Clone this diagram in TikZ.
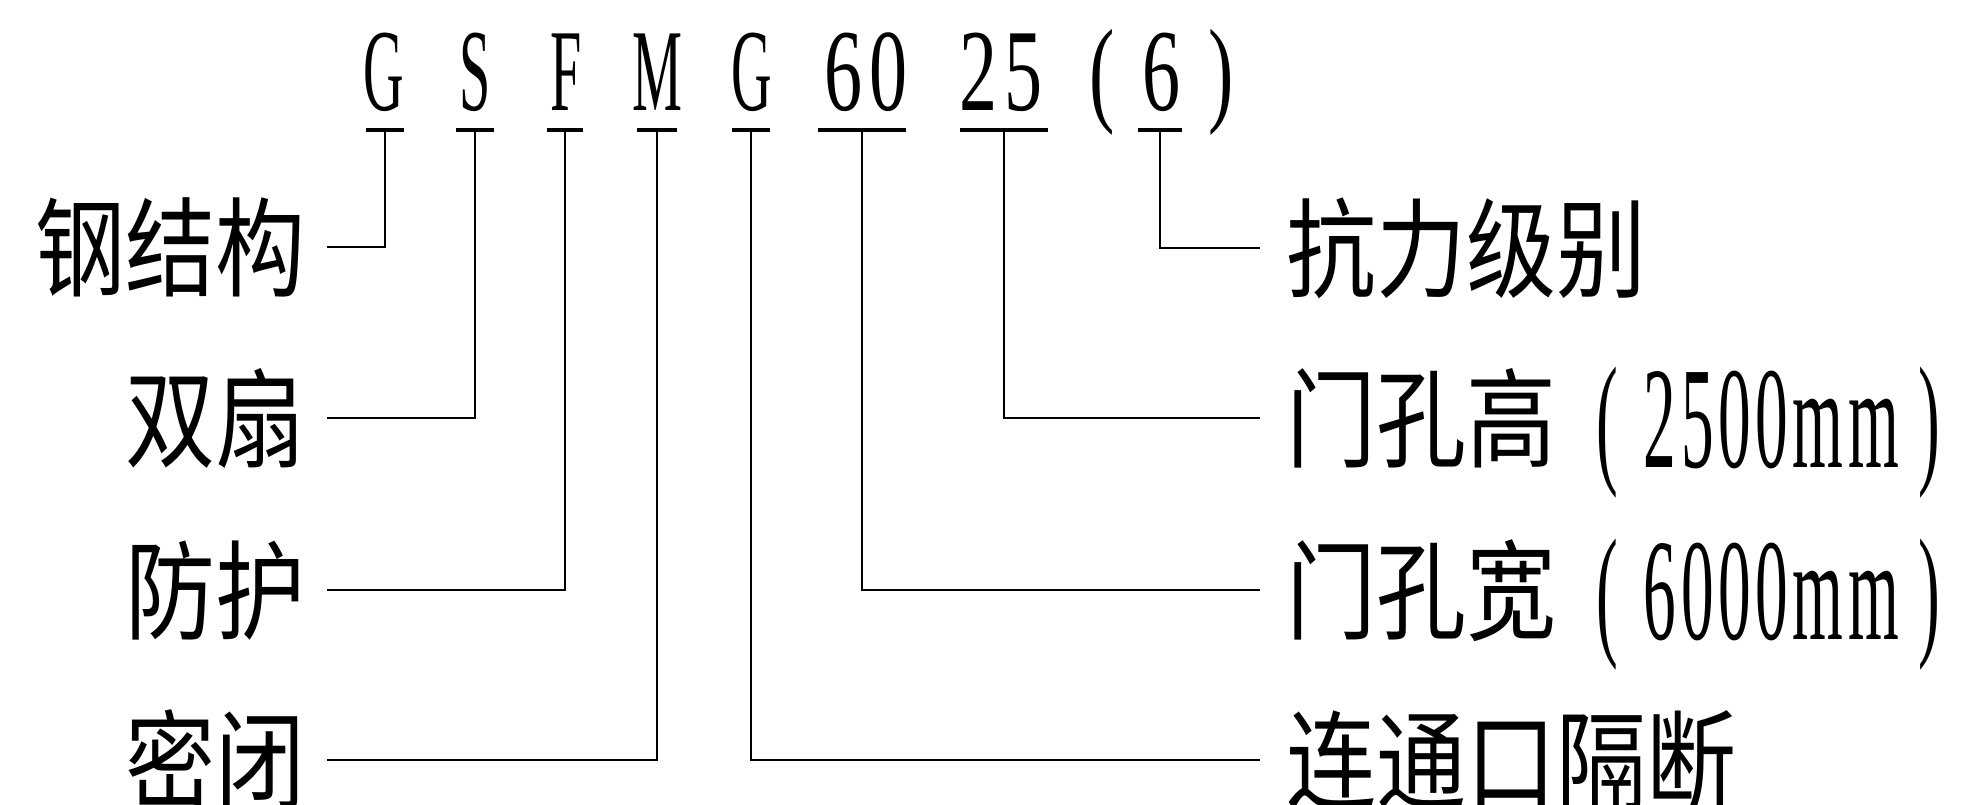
\documentclass[tikz,border=0pt]{standalone}
\usepackage{fontspec}
\setmainfont{Liberation Serif}
\newfontfamily\cjk{Noto Sans CJK SC}
\usepackage{tikz}
\newcommand{\hz}[1]{\scalebox{1}[1.2]{\cjk\fontsize{90}{90}\selectfont #1}}
\newcommand{\digs}[1]{\raisebox{-8pt}{\scalebox{0.45}[1]{\fontsize{145}{145}\selectfont\addfontfeature{LetterSpace=7}#1}}}
\newcommand{\code}[2][0.48]{\scalebox{#1}[1]{\fontsize{117}{117}\selectfont #2}}

\begin{document}
\begin{tikzpicture}[x=1pt, y=-1pt, line width=2.4pt,
    code/.style={anchor=base, inner sep=0pt},
    leftlab/.style={anchor=east, inner xsep=20pt, text height=94pt, text depth=12pt},
    rightlab/.style={anchor=west, inner xsep=25pt, text height=94pt, text depth=12pt},
    underline/.style={line width=3.4pt}]

\useasboundingbox (0,0) rectangle (1985,804);

% model code
\draw
    node at(384,110)[code,name=cG]{\code{G}}
    node at(475,110)[code,name=cS]{\code{S}}
    node at(566,110)[code,name=cF]{\code{F}}
    node at(657,110)[code,name=cM]{\code{M}}
    node at(752,110)[code,name=cGb]{\code{G}}
    node at(866,110)[code,name=cW]{\code[0.65]{6\hspace{12pt}0}}
    node at(1001,110)[code,name=cH]{\code[0.65]{2\hspace{12pt}5}}
    node at(1162,110)[code,name=cR]{\code[0.65]{(\hspace{43pt}6\hspace{43pt})}}

% meanings
    node at(327,247)[leftlab,name=steel]{\hz{钢结构}}
    node at(327,418)[leftlab,name=double]{\hz{双扇}}
    node at(327,590)[leftlab,name=protect]{\hz{防护}}
    node at(327,760)[leftlab,name=seal]{\hz{密闭}}

    node at(1260,248)[rightlab,name=resist]{\hz{抗力级别}}
    node at(1260,418)[rightlab,name=height]{\hz{门孔高}\hspace{40pt}\digs{(\hspace{58pt}2500mm\hspace{44pt})}}
    node at(1260,590)[rightlab,name=width]{\hz{门孔宽}\hspace{40pt}\digs{(\hspace{58pt}6000mm\hspace{44pt})}}
    node at(1260,760)[rightlab,name=passage]{\hz{连通口隔断}}
;

    \coordinate (uG) at (385,130);
    \coordinate (uS) at (475,130);
    \coordinate (uF) at (565,130);
    \coordinate (uM) at (657,130);
    \coordinate (uGb) at (751,130);
    \coordinate (uW) at (862,130);
    \coordinate (uH) at (1004,130);
    \coordinate (uR) at (1160,130);

    \foreach \u/\w in {uG/19,uS/19,uF/18,uM/20,uGb/19,uW/44,uH/44,uR/22}
        \draw[underline] ([xshift=-\w pt]\u) -- ([xshift=\w pt]\u);

    \draw (uG) |- (steel.east);
    \draw (uS) |- (double.east);
    \draw (uF) |- (protect.east);
    \draw (uM) |- (seal.east);

    \draw (uGb) |- (passage.west);
    \draw (uW) |- (width.west);
    \draw (uH) |- (height.west);
    \draw (uR) |- (resist.west);

\end{tikzpicture}
\end{document}
